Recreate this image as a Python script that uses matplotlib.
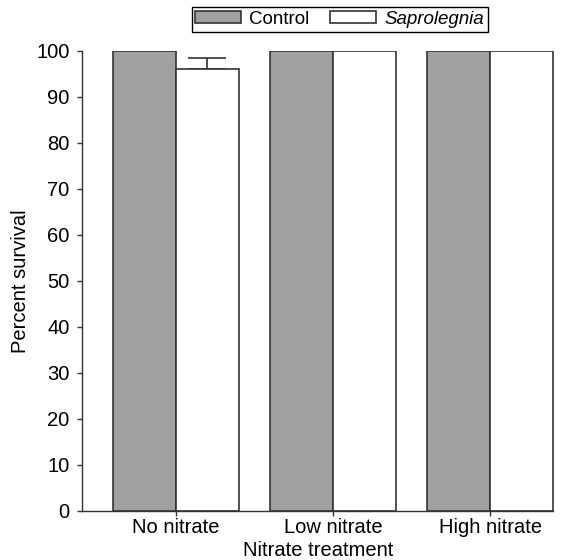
import matplotlib
matplotlib.use("Agg")
import matplotlib.pyplot as plt
import numpy as np

plt.rcParams['font.family'] = ['Liberation Sans', 'DejaVu Sans']

# data
treatments = ["No nitrate", "Low nitrate", "High nitrate"]
control = [100, 100, 100]
saprolegnia = [96, 100, 100]
saprolegnia_err = [2.4, 0, 0]

fs = 14.5
edge = "#333333"

fig = plt.figure(figsize=(5.68, 5.60), dpi=100)
ax = fig.add_axes([0.1444, 0.0875, 0.977 - 0.1444, 0.909 - 0.0875])

x = np.arange(len(treatments))
w = 0.4
ax.bar(x - w / 2, control, w, color="#a0a0a0", edgecolor=edge, linewidth=1.2,
       label="Control", zorder=2)
ax.bar(x + w / 2, saprolegnia, w, color="white", edgecolor=edge, linewidth=1.2,
       label="Saprolegnia", zorder=2)
# only the upper half of the error bar is shown
err = np.array(saprolegnia_err)
has = err > 0
ax.errorbar((x + w / 2)[has], np.array(saprolegnia)[has],
            yerr=[np.zeros(has.sum()), err[has]], fmt="none",
            ecolor=edge, elinewidth=1.2, capsize=13.5, capthick=1.2, zorder=1)

ax.set_xlim(-0.595, 2.41)
ax.set_ylim(0, 100)
ax.set_yticks(np.arange(0, 101, 10))
ax.set_xticks(x)
ax.set_xticklabels(treatments)
for s in ["top", "right"]:
    ax.spines[s].set_visible(False)
for s in ["left", "bottom"]:
    ax.spines[s].set_color(edge)
    ax.spines[s].set_linewidth(1.0)
ax.spines["bottom"].set_bounds(-0.595, 2.4)
ax.tick_params(axis="y", direction="out", length=3.6, width=1.0, color=edge,
               labelsize=fs, pad=5.5)
ax.tick_params(axis="x", direction="out", length=3.6, width=1.0, color=edge,
               labelsize=fs, pad=1.5)

ax.set_xlabel("Nitrate treatment", fontsize=fs, labelpad=3)
ax.set_ylabel("Percent survival", fontsize=fs, labelpad=4)

leg = fig.legend(loc="upper center", bbox_to_anchor=(0.598, 0.9875), ncol=2,
                 fontsize=13.5, frameon=True, fancybox=False, framealpha=1,
                 edgecolor="black", borderpad=0.2, handlelength=2.45,
                 handleheight=0.64, handletextpad=0.43, columnspacing=1.1,
                 borderaxespad=0)
leg.get_frame().set_linewidth(1.0)
leg.get_texts()[1].set_fontstyle("italic")

fig.savefig("out.png", dpi=100)
